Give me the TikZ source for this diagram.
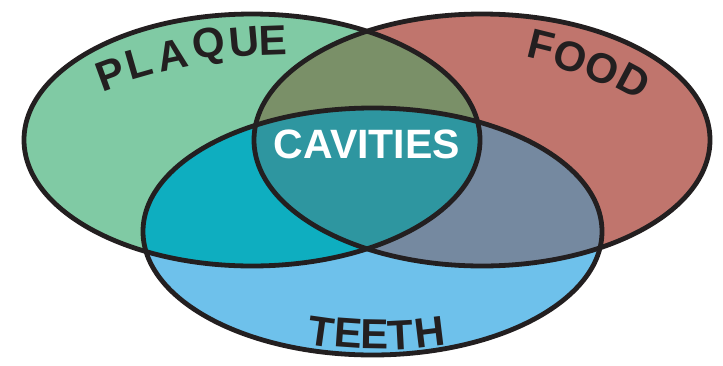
\documentclass[tikz,border=0pt]{standalone}
\usepackage{fontspec}
\setmainfont{Liberation Sans}
\usepackage{xcolor}
\usepackage{tikz}
\definecolor{plaquegreen}{RGB}{128,202,164}
\definecolor{foodred}{RGB}{192,117,109}
\definecolor{teethblue}{RGB}{110,193,235}
\definecolor{greenred}{RGB}{122,144,104}
\definecolor{greenblue}{RGB}{14,174,192}
\definecolor{redblue}{RGB}{117,137,160}
\definecolor{allthree}{RGB}{46,150,160}
\definecolor{inkblack}{RGB}{35,31,32}

\newcommand{\plaqueset}{(252,140) ellipse [x radius=228pt, y radius=126pt]}
\newcommand{\foodset}{(482,140) ellipse [x radius=228pt, y radius=126pt]}
\newcommand{\teethset}{(372.5,231.5) ellipse [x radius=229.5pt, y radius=123.5pt]}

\begin{document}
\begin{tikzpicture}[x=1pt, y=-1pt,
  letter/.style={font=\fontsize{42}{42}\selectfont\bfseries, text=inkblack, inner sep=0pt},
  outline/.style={draw=inkblack, line width=4.8pt}]
  \useasboundingbox (0,0) rectangle (723,365);
  % the three sets
  \fill[plaquegreen] \plaqueset;
  \fill[foodred] \foodset;
  \fill[teethblue] \teethset;
  % overlaps
  \begin{scope}
    \clip \plaqueset;
    \fill[greenred] \foodset;
    \fill[greenblue] \teethset;
  \end{scope}
  \begin{scope}
    \clip \foodset;
    \fill[redblue] \teethset;
  \end{scope}
  \begin{scope}
    \clip \plaqueset;
    \clip \foodset;
    \fill[allthree] \teethset;
  \end{scope}
  \draw[outline] \plaqueset;
  \draw[outline] \foodset;
  \draw[outline] \teethset;
  % labels
  \node[font=\fontsize{41}{41}\selectfont\bfseries, text=white, inner sep=0pt] (cavities) at (367,144) {CAVITIES};
  \foreach \ch/\x/\y/\r [count=\i] in {P/111/74/20, L/139/63/16, A/172/55/12, Q/209/47/8, U/244/42/5, E/273/41/2}
    \node[letter, rotate=\r] (plaque\i) at (\x,\y) {\ch};
  \foreach \ch/\x/\y/\r [count=\i] in {F/541/46/-14, O/570/57/-18, O/602/69/-23, D/634/81/-28}
    \node[letter, rotate=\r] (food\i) at (\x,\y) {\ch};
  \foreach \ch/\x/\y/\r [count=\i] in {T/321/332/-8, E/348/333/-4, E/375/334/-1, T/401/335/3, H/430/332/7}
    \node[letter, rotate=\r] (teeth\i) at (\x,\y) {\ch};
\end{tikzpicture}
\end{document}
